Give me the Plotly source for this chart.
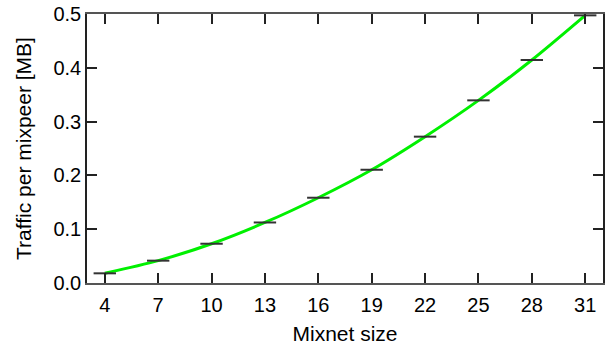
import plotly.graph_objects as go

mixnet_size = [4, 7, 10, 13, 16, 19, 22, 25, 28, 31]
traffic_mb = [0.018, 0.0415, 0.073, 0.1125, 0.1585, 0.2105, 0.272, 0.3395, 0.4145, 0.4975]
x_ticks = [4, 7, 10, 13, 16, 19, 22, 25, 28, 31]
y_ticks = [0.0, 0.1, 0.2, 0.3, 0.4, 0.5]

FONT = "Liberation Sans, Arial, sans-serif"

fig = go.Figure()
fig.add_trace(go.Scatter(
    x=mixnet_size, y=traffic_mb, mode="lines",
    line=dict(color="#00f000", width=3, shape="spline", smoothing=0.8),
    showlegend=False, hoverinfo="skip",
))
fig.add_trace(go.Scatter(
    x=mixnet_size, y=traffic_mb, mode="markers",
    marker=dict(symbol="line-ew", size=16, line=dict(color="#333333", width=2)),
    showlegend=False,
))

fig.update_layout(
    width=611, height=351,
    margin=dict(l=87, r=8, t=14, b=68, autoexpand=False),
    paper_bgcolor="white", plot_bgcolor="white",
    font=dict(family=FONT, size=20, color="black"),
)
fig.update_xaxes(
    range=[3, 32], tickmode="array", tickvals=x_ticks,
    ticktext=[str(v) for v in x_ticks],
    ticks="inside", ticklen=10, tickwidth=1.5, tickcolor="#222",
    showline=True, linecolor="#555", linewidth=1.5, mirror="ticks",
    showgrid=False, zeroline=False, automargin=False,
    ticklabelstandoff=3,
    title=dict(text="Mixnet size", standoff=12, font=dict(size=21)),
    tickfont=dict(size=20),
)
fig.update_yaxes(
    range=[0, 0.5], tickmode="array", tickvals=y_ticks,
    ticktext=[f"{v:.1f}" for v in y_ticks],
    ticks="inside", ticklen=10, tickwidth=1.5, tickcolor="#222",
    showline=True, linecolor="#222", linewidth=1.5, mirror="ticks",
    showgrid=False, zeroline=False, automargin=False,
    title=dict(text="Traffic per mixpeer [MB]", standoff=16, font=dict(size=21)),
    tickfont=dict(size=20),
)

fig.write_html(
    "out.html",
    config={"displayModeBar": False},
    post_script="document.body.style.margin='0';document.body.style.padding='0';",
)
